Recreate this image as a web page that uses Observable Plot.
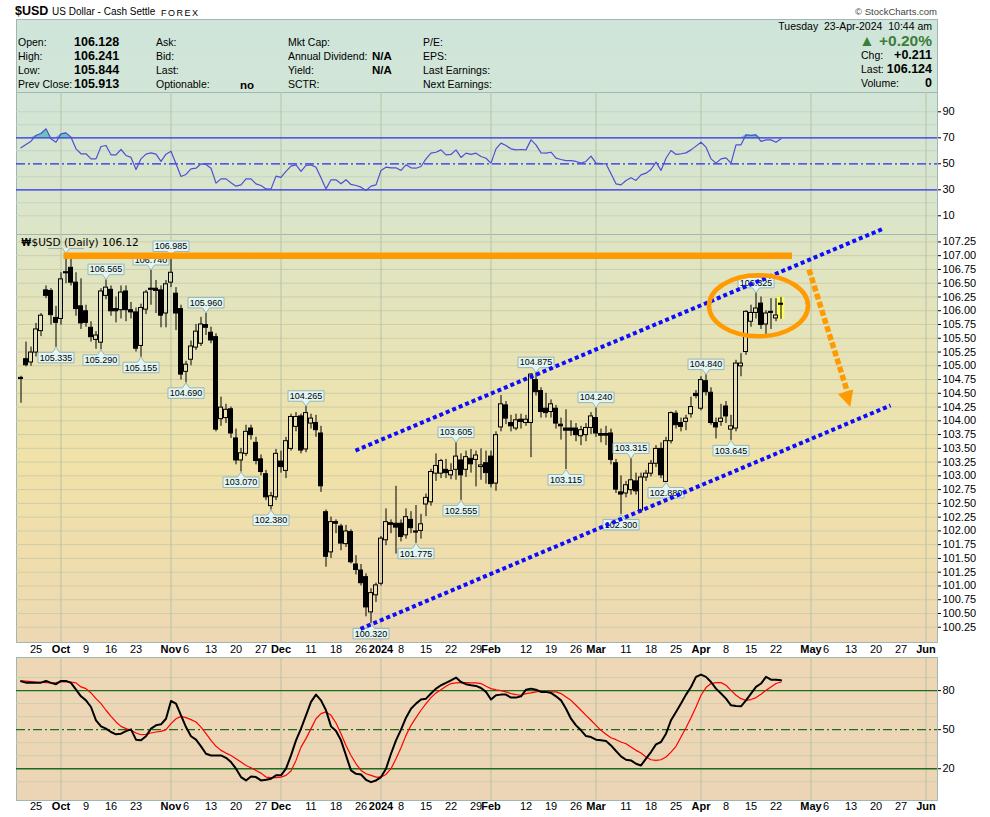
<!DOCTYPE html>
<html>
<head>
<meta charset="utf-8">
<script src="https://cdn.jsdelivr.net/npm/d3@7"></script>
<script src="https://cdn.jsdelivr.net/npm/@observablehq/plot@0.6"></script>
<style>
  html,body{margin:0;padding:0;background:#fff;}
  body{position:relative;width:990px;height:817px;overflow:hidden;font-family:"Liberation Sans",Arial,sans-serif;color:#000;}
  .a{position:absolute;white-space:nowrap;}
  .panel{position:absolute;left:16px;width:922px;box-sizing:border-box;border:1px solid #9fb8b6;
    background-image:linear-gradient(to bottom,#cfe5dc 0px,#d2e5d6 110px,#dde5c6 234px,#e8e3b5 360px,#f0e2a8 460px,#efdcae 580px,#edd7b5 650px,#ecd5b6 817px);
    background-size:100% 817px;background-repeat:no-repeat;}
  .lbl{font-size:10.5px;line-height:14px;height:14px;}
  .val{font-size:12.5px;font-weight:bold;line-height:14px;height:14px;}
  .chart{position:absolute;left:0;}
</style>
</head>
<body>
<!-- backgrounds -->
<div class="panel" style="top:19px;height:74px;background-position:0 -20px"></div>
<div class="panel" style="top:92px;height:143px;background-position:0 -93px"></div>
<div class="panel" style="top:234px;height:409px;background-position:0 -235px"></div>
<div class="panel" style="top:657px;height:144px;background-position:0 -658px"></div>

<!-- title -->
<div class="a" style="left:15px;top:4px;font-size:12.5px;font-weight:bold;line-height:14px">$USD</div>
<div class="a" style="left:52px;top:5px;font-size:10px;line-height:14px">US Dollar - Cash Settle</div>
<div class="a" style="left:161px;top:6px;font-size:9px;letter-spacing:1.5px;line-height:14px">FOREX</div>
<div class="a" style="right:53px;top:5px;font-size:9.5px;color:#444;line-height:14px">© StockCharts.com</div>

<!-- header info -->
<div class="a lbl" style="left:18px;top:35px">Open:</div>
<div class="a lbl" style="left:18px;top:49px">High:</div>
<div class="a lbl" style="left:18px;top:63px">Low:</div>
<div class="a lbl" style="left:18px;top:77px">Prev Close:</div>
<div class="a val" style="left:74px;top:35px">106.128</div>
<div class="a val" style="left:74px;top:49px">106.241</div>
<div class="a val" style="left:74px;top:63px">105.844</div>
<div class="a val" style="left:74px;top:77px">105.913</div>
<div class="a lbl" style="left:156px;top:35px">Ask:</div>
<div class="a lbl" style="left:156px;top:49px">Bid:</div>
<div class="a lbl" style="left:156px;top:63px">Last:</div>
<div class="a lbl" style="left:156px;top:77px">Optionable:</div>
<div class="a val" style="left:240px;top:78px;font-size:11.5px">no</div>
<div class="a lbl" style="left:288px;top:35px">Mkt Cap:</div>
<div class="a lbl" style="left:288px;top:49px">Annual Dividend:</div>
<div class="a lbl" style="left:288px;top:63px">Yield:</div>
<div class="a lbl" style="left:288px;top:77px">SCTR:</div>
<div class="a val" style="left:372px;top:49px;font-size:11.5px">N/A</div>
<div class="a val" style="left:372px;top:63px;font-size:11.5px">N/A</div>
<div class="a lbl" style="left:423px;top:35px">P/E:</div>
<div class="a lbl" style="left:423px;top:49px">EPS:</div>
<div class="a lbl" style="left:423px;top:63px">Last Earnings:</div>
<div class="a lbl" style="left:423px;top:77px">Next Earnings:</div>

<div class="a lbl" style="right:58px;top:19px">Tuesday&nbsp; 23-Apr-2024&nbsp; 10:44 am</div>
<div class="a" style="right:58px;top:33px;font-size:15.5px;font-weight:bold;line-height:15px;height:15px;color:#3b7d3b">▲ +0.20%</div>
<div class="a lbl" style="left:861px;top:48px">Chg:</div>
<div class="a val" style="right:58px;top:48px">+0.211</div>
<div class="a lbl" style="left:861px;top:62px">Last:</div>
<div class="a val" style="right:58px;top:62px">106.124</div>
<div class="a lbl" style="left:861px;top:76px">Volume:</div>
<div class="a val" style="right:58px;top:76px">0</div>

<div id="rsi" class="chart" style="top:92px"></div>
<div id="main" class="chart" style="top:220px"></div>
<div id="stoch" class="chart" style="top:657px"></div>

<script>
// ---------------- DATA ----------------
const firstDay = "2023-09-20";
const lastAxisDay = "2024-06-07";
const holidays = ["2023-12-25", "2024-01-01"];

const open = [
104.78,105.12,105.06,105.24,105.63,106.37,106.36,105.87,105.85,106.70,
106.78,106.51,106.08,105.99,105.69,105.47,105.42,106.27,106.38,106.03,
106.01,106.35,106.01,105.97,105.36,106.02,106.40,106.40,106.37,105.95,
106.51,106.31,106.03,104.89,105.11,105.33,105.40,105.74,105.60,105.52,
104.03,104.05,104.21,103.68,103.28,103.40,103.86,103.60,103.30,103.03,
102.45,102.61,103.26,103.09,103.49,103.89,104.08,103.48,103.95,103.96,
103.77,102.34,101.61,102.16,102.08,101.76,101.98,101.39,101.28,101.16,
100.52,100.83,101.04,101.83,102.14,102.13,102.13,101.92,102.20,101.99,
102.00,102.48,102.52,103.04,103.04,103.11,103.01,103.11,103.28,103.11,
103.31,103.29,103.16,103.23,103.35,102.86,103.88,104.28,103.96,103.86,
104.02,103.96,103.96,104.74,104.54,104.22,104.16,104.22,103.93,103.86,
103.86,103.86,103.72,103.74,103.87,104.05,103.76,103.76,103.77,103.23,
102.70,102.68,102.74,102.90,102.37,102.97,103.04,103.22,103.49,102.89,
103.63,104.13,103.96,103.98,104.12,104.49,104.22,104.72,104.51,103.96,
103.98,104.26,103.84,103.86,104.99,105.25,105.80,105.96,106.13,105.75,
105.98,105.86,106.128];
const high = [
104.81,105.43,105.34,105.77,105.95,106.45,106.40,106.08,106.69,107.04,
106.95,106.69,106.58,106.10,105.80,105.62,106.40,106.565,106.45,106.25,
106.45,106.45,106.15,106.05,106.12,106.37,106.74,106.55,106.45,106.55,
106.985,106.42,106.10,105.08,105.45,105.75,105.88,105.96,105.70,105.58,
104.43,104.30,104.25,103.85,103.50,103.92,103.92,103.70,103.38,103.10,
102.70,103.48,103.45,103.70,104.12,104.15,104.12,104.265,104.12,104.10,
103.90,102.38,102.25,102.20,102.12,102.10,102.02,101.55,101.39,101.22,
100.95,101.05,101.90,102.40,102.20,102.81,102.20,102.40,102.35,102.46,
102.30,102.67,103.12,103.40,103.30,103.30,103.22,103.605,103.40,103.45,
103.48,103.45,103.49,103.45,103.45,103.80,104.46,104.35,104.10,104.12,
104.12,104.10,104.86,104.875,104.60,104.50,104.38,104.28,104.05,104.20,
104.00,103.95,103.90,103.95,104.15,104.24,103.85,103.90,103.85,103.30,
103.00,102.90,103.315,103.05,103.05,103.10,103.28,103.55,103.60,103.70,
104.16,104.18,104.05,104.10,104.43,104.55,104.80,104.84,104.60,104.05,
104.30,104.35,104.10,105.10,105.22,106.00,106.10,106.325,106.25,106.00,
106.22,106.22,106.241];
const low = [
104.32,104.98,104.99,105.16,105.53,106.22,105.74,105.335,105.74,106.49,
106.45,105.90,105.66,105.70,105.43,105.30,105.29,106.20,105.90,105.78,
105.85,105.80,105.85,105.25,105.155,105.93,106.10,105.95,105.69,105.69,
106.42,105.64,104.74,104.69,105.00,105.28,105.35,105.55,105.40,103.80,
103.90,103.95,103.68,103.20,103.07,103.35,103.65,103.20,103.00,102.55,
102.38,102.55,103.05,102.95,103.45,103.80,103.40,103.42,103.85,103.70,
102.70,101.34,101.50,101.95,101.64,101.70,101.40,101.20,101.00,100.44,
100.32,100.70,101.00,101.73,101.95,101.58,101.80,101.85,101.95,101.775,
101.85,102.26,102.45,102.90,102.95,102.95,102.93,102.92,102.555,102.97,
103.05,102.80,102.92,102.85,102.78,102.72,103.80,103.93,103.80,103.82,
103.85,103.90,103.33,104.45,104.05,104.05,104.05,103.85,103.65,103.115,
103.72,103.62,103.55,103.62,103.75,103.70,103.60,103.55,103.20,102.68,
102.30,102.60,102.65,102.65,102.33,102.90,102.98,103.15,102.95,102.88,
103.58,103.85,103.80,103.82,104.05,104.40,104.18,104.45,103.92,103.67,
103.90,103.95,103.645,103.80,104.80,105.19,105.70,105.85,105.66,105.54,
105.66,105.80,105.844];
const close = [
104.76,105.01,105.24,105.66,105.91,106.27,105.92,105.78,106.57,106.68,
106.51,106.03,105.77,105.78,105.52,105.55,106.35,106.42,105.99,105.99,
106.33,106.01,105.97,105.31,106.05,106.33,106.38,106.36,105.91,106.48,
106.69,105.95,104.84,105.02,105.35,105.62,105.75,105.69,105.46,103.84,
104.24,104.20,103.77,103.28,103.41,103.80,103.74,103.27,103.07,102.61,
102.63,103.40,103.16,103.63,104.07,104.07,103.46,104.14,104.04,103.83,
102.81,101.53,102.16,102.13,101.77,101.99,101.43,101.29,101.05,100.61,
100.87,101.01,101.86,102.16,102.11,102.06,101.89,102.25,102.05,101.98,
102.12,102.60,103.07,103.18,103.27,103.05,103.09,103.35,103.01,103.34,
103.21,103.37,103.19,103.05,102.85,103.74,104.30,104.04,103.90,104.01,
103.98,104.02,104.84,104.52,104.16,104.14,104.30,103.95,103.90,103.82,
103.82,103.74,103.83,103.87,104.08,103.77,103.73,103.73,103.29,102.75,
102.66,102.83,102.92,102.72,102.97,103.04,103.22,103.49,103.01,103.63,
104.14,103.92,103.89,104.04,104.25,104.45,104.74,104.52,103.96,103.88,
104.04,104.08,103.90,105.04,105.04,105.98,105.96,106.04,105.74,105.95,
105.96,105.913,106.124];

const rsi = [
62.3,64.9,67.4,71.8,73.3,76.9,69.2,66.6,73.0,73.8,
70.5,61.5,57.7,57.7,53.8,53.8,63.3,64.1,56.9,56.9,
61.0,56.4,54.9,45.6,53.8,57.4,58.4,57.4,51.8,57.4,
59.7,50.0,40.2,41.8,46.1,46.6,50.0,49.5,46.6,35.1,
38.4,38.4,35.4,32.8,33.8,38.4,38.4,34.6,33.3,30.7,
30.5,40.5,39.5,44.1,48.2,49.2,44.1,48.7,49.2,47.4,
39.2,30.7,37.7,37.7,34.6,37.7,34.1,33.3,32.0,29.5,
32.8,33.8,44.9,47.4,46.9,46.9,44.9,49.2,46.9,46.6,
47.9,53.8,58.2,58.9,60.7,56.9,57.2,60.7,54.9,58.2,
57.2,58.2,55.6,54.3,50.5,61.5,65.9,64.1,61.5,60.7,
61.0,60.7,68.4,64.6,58.4,58.2,58.9,54.3,53.3,52.5,
52.5,51.8,50.5,51.8,55.9,50.5,50.2,50.0,42.3,34.6,
33.8,37.2,39.2,37.2,41.5,42.8,45.6,51.3,44.9,54.3,
60.2,57.2,57.7,58.4,60.7,63.6,66.6,62.8,53.8,50.5,
53.8,54.6,50.5,64.6,64.6,72.3,71.8,72.3,67.2,68.4,
68.4,66.6,69.2];

const stochK = [
87.2,86.1,86.1,86.1,86.1,87.4,85.9,84.9,87.4,87.4,
85.9,80.7,75.6,72.5,67.4,57.2,52.5,50.8,48.2,46.4,
46.9,48.9,50.2,42.3,41.8,44.9,50.8,53.3,54.1,58.4,
72.0,70.0,61.0,52.0,44.9,42.3,37.2,31.5,30.2,30.2,
30.2,28.4,25.1,20.0,13.6,11.0,14.1,13.6,11.0,11.5,
12.3,14.9,14.9,20.0,30.2,41.8,50.8,61.0,71.3,76.9,
72.5,64.9,52.5,48.9,41.8,30.2,18.7,16.1,15.6,11.5,
9.7,11.0,13.6,20.0,31.5,41.8,50.0,59.2,66.1,70.0,
73.1,73.8,77.7,81.5,84.1,85.9,87.9,90.0,86.6,84.9,
84.1,83.6,82.0,79.0,73.1,76.4,76.9,76.9,74.6,74.6,
75.6,80.7,81.5,80.7,79.0,79.0,78.2,75.6,72.5,66.1,
58.4,53.3,49.5,45.1,44.3,42.3,41.8,41.3,37.9,33.6,
29.5,26.9,26.4,23.8,22.5,27.7,32.8,38.7,40.5,46.9,
57.2,63.6,70.0,76.9,82.8,90.5,92.3,90.5,86.6,81.5,
77.7,73.8,68.7,68.2,67.9,72.5,77.7,82.8,85.4,90.5,
88.4,88.4,87.9];

const stochD = [
87.4,87.2,86.9,86.6,86.4,86.1,85.9,86.1,86.6,86.9,
86.6,85.9,82.8,81.5,78.2,73.8,70.0,64.9,60.2,55.9,
52.5,50.8,49.5,47.4,46.1,46.4,47.4,48.2,48.7,50.0,
54.6,58.4,60.2,59.2,57.7,55.9,52.0,46.9,41.8,37.2,
34.1,32.0,30.2,27.7,25.1,22.5,20.8,18.7,16.6,13.6,
13.1,13.1,13.6,14.9,18.2,26.4,36.6,43.1,50.8,58.4,
62.3,63.6,61.0,55.1,46.9,37.9,30.2,23.8,18.7,16.1,
14.9,13.6,13.6,15.6,20.0,27.7,36.1,45.6,53.3,59.2,
64.9,70.0,74.6,78.2,80.7,83.3,85.4,85.9,86.1,86.1,
85.9,85.9,85.4,83.3,81.5,80.5,79.9,79.0,77.7,76.9,
76.4,77.7,78.2,79.0,79.5,79.0,79.0,79.0,77.7,75.1,
72.5,68.7,64.9,61.0,57.2,53.3,49.5,46.4,43.8,42.3,
40.5,39.2,36.6,34.1,32.0,29.0,26.9,26.4,26.9,29.0,
32.8,37.2,44.3,51.5,59.2,67.4,76.4,82.3,85.4,86.1,
86.1,84.1,80.2,76.4,73.8,72.5,73.1,74.6,77.2,80.2,
82.8,85.4,86.6];

// price tags: date, price, side
const tagDates  = ["2023-10-13","2023-10-26","2023-11-01","2023-11-10","2023-12-08","2024-01-23","2024-02-14","2024-03-01","2024-03-12","2024-04-02","2024-04-16"];
const tagPrices = [106.565,106.740,106.985,105.960,104.265,103.605,104.875,104.240,103.315,104.840,106.325];
const lowTagDates  = ["2023-09-29","2023-10-12","2023-10-24","2023-11-06","2023-11-21","2023-11-29","2023-12-28","2024-01-11","2024-01-24","2024-02-22","2024-03-08","2024-03-21","2024-04-09"];
const lowTagPrices = [105.335,105.290,105.155,104.690,103.070,102.380,100.320,101.775,102.555,103.115,102.300,102.880,103.645];
const hiddenTagDate = "2023-10-03", hiddenTagPrice = 107.04;

const monthTickDates = ["2023-10-02","2023-11-01","2023-12-01","2024-01-02","2024-02-01","2024-03-01","2024-04-01","2024-05-01","2024-06-03"];
const monthTickText  = ["Oct","Nov","Dec","2024","Feb","Mar","Apr","May","Jun"];
const dayTickDates = ["2023-09-25","2023-10-09","2023-10-16","2023-10-23","2023-11-06","2023-11-13","2023-11-20","2023-11-27","2023-12-11","2023-12-18","2023-12-26","2024-01-08","2024-01-15","2024-01-22","2024-01-29","2024-02-12","2024-02-19","2024-02-26","2024-03-11","2024-03-18","2024-03-25","2024-04-08","2024-04-15","2024-04-22","2024-05-06","2024-05-13","2024-05-20","2024-05-27"];
const dayTickText  = ["25","9","16","23","6","13","20","27","11","18","26","8","15","22","29","12","19","26","11","18","25","8","15","22","6","13","20","27"];

const priceTicks = [100.25,100.5,100.75,101,101.25,101.5,101.75,102,102.25,102.5,102.75,103,103.25,103.5,103.75,104,104.25,104.5,104.75,105,105.25,105.5,105.75,106,106.25,106.5,106.75,107,107.25];
const rsiTicks = [10,30,50,70,90];
const stochTicks = [20,50,80];

// hand-drawn annotations, in (trading-day index, price)
const resistanceLine = [{k: 8.5, p: 107.0}, {k: 154.2, p: 107.0}];
const upperChannel = [{k: 66.9, p: 103.46}, {k: 172.7, p: 107.50}];
const lowerChannel = [{k: 67.9, p: 100.22}, {k: 173.9, p: 104.28}];
const ellipseCenter = [{k: 147.5, p: 106.09}];
const arrowPath = [{k: 157.6, p: 106.75}, {k: 165.3, p: 104.52}];
const arrowTip = [{k: 165.85, p: 104.25}];

// ---------------- BUILD ----------------
function tradingDays(start, end, hol) {
  const out = [], hs = new Set(hol);
  const e = Date.parse(end + "T00:00:00Z");
  for (let t = Date.parse(start + "T00:00:00Z"); t <= e; t += 86400000) {
    const d = new Date(t), wd = d.getUTCDay(), s = d.toISOString().slice(0, 10);
    if (wd === 0 || wd === 6 || hs.has(s)) continue;
    out.push(s);
  }
  return out;
}
const days = tradingDays(firstDay, lastAxisDay, holidays);
const idx = new Map(days.map((d, i) => [d, i]));

const candles = open.map((o, i) => ({k: i, o, h: high[i], l: low[i], c: close[i]}));
const up = candles.filter(d => d.c >= d.o);
const down = candles.filter(d => d.c < d.o);
const bodyTop = d => Math.max(d.o, d.c);
const bodyBot = d => Math.min(Math.min(d.o, d.c), Math.max(d.o, d.c) - 0.02);

const tagsHi = tagDates.map((d, i) => ({k: idx.get(d), p: tagPrices[i]}));
const tagsLo = lowTagDates.map((d, i) => ({k: idx.get(d), p: lowTagPrices[i]}));
const tagStub = [{k: idx.get(hiddenTagDate), p: hiddenTagPrice}];

const monK = monthTickDates.map(d => idx.get(d));
const monLabel = new Map(monK.map((k, i) => [k, monthTickText[i]]));
const dayK = dayTickDates.map(d => idx.get(d));
const dayLabel = new Map(dayK.map((k, i) => [k, dayTickText[i]]));

const W = 990, ML = 16, MR = 53;
const X = {domain: [-0.8, 183.4], range: [16.5, 937.5]};
const ST = {background: "transparent", fontFamily: "'Liberation Sans', Arial, sans-serif", fontSize: "11px", overflow: "visible", color: "#000"};
const HGRID = "#cfcda9", HGRID_RSI = "#c5d4c2", VGRID = "#b7c2a7";
const ORANGE = "#ff9a00", BLUE = "#0c0cff";

function xAxes() {
  return [
    Plot.axisX(dayK, {tickFormat: k => dayLabel.get(k), tickSize: 0, tickPadding: 2, fontSize: 11, label: null}),
    Plot.axisX(monK, {tickFormat: k => monLabel.get(k), tickSize: 0, tickPadding: 2, fontSize: 11, fontWeight: "bold", label: null})
  ];
}

// custom symbols (pixel shapes anchored at the data point)
const TW = 18;
const tagAbove = {draw(c) { c.moveTo(0, 0); c.lineTo(-3.5, -5); c.lineTo(-TW, -5); c.lineTo(-TW, -15.5); c.lineTo(TW, -15.5); c.lineTo(TW, -5); c.lineTo(3.5, -5); c.closePath(); }};
const tagBelow = {draw(c) { c.moveTo(0, 0); c.lineTo(-3.5, 5); c.lineTo(-TW, 5); c.lineTo(-TW, 15.5); c.lineTo(TW, 15.5); c.lineTo(TW, 5); c.lineTo(3.5, 5); c.closePath(); }};
const tagStubSym = {draw(c) { c.moveTo(-TW, -5); c.lineTo(-3.5, -5); c.lineTo(0, 0); c.lineTo(3.5, -5); c.lineTo(TW, -5); }};
const ellipseSym = {draw(c) {
  const rx = 49.5, ry = 30.5, kx = rx * 0.5523, ky = ry * 0.5523;
  c.moveTo(rx, 0);
  c.bezierCurveTo(rx, ky, kx, ry, 0, ry);
  c.bezierCurveTo(-kx, ry, -rx, ky, -rx, 0);
  c.bezierCurveTo(-rx, -ky, -kx, -ry, 0, -ry);
  c.bezierCurveTo(kx, -ry, rx, -ky, rx, 0);
  c.closePath();
}};
const headSym = {draw(c) {
  const dx = 0.292, dy = 0.956, L = 16, H = 8;
  c.moveTo(0, 0);
  c.lineTo(-L * dx + H * dy, -L * dy - H * dx);
  c.lineTo(-L * dx - H * dy, -L * dy + H * dx);
  c.closePath();
}};

// ---- RSI panel ----
const rsiData = rsi.map((v, i) => ({k: i, v}));
const rsiPlot = Plot.plot({
  width: W, height: 142, marginLeft: ML, marginRight: MR, marginTop: 0, marginBottom: 0,
  x: {...X, axis: null},
  y: {domain: [-4.4, 104.85]},
  style: ST,
  marks: [
    Plot.ruleY([10, 20, 40, 60, 80, 90], {stroke: HGRID_RSI}),
    Plot.ruleX(monK, {stroke: VGRID}),
    Plot.areaY(rsiData, {x: "k", y1: 70, y2: d => Math.max(70, d.v), fill: "#6cc4b4"}),
    Plot.ruleY([30, 70], {stroke: "#2b2bea", strokeWidth: 1.3}),
    Plot.ruleY([50], {stroke: "#2b2bea", strokeWidth: 1.3, strokeDasharray: "9,3,2,3"}),
    Plot.line(rsiData, {x: "k", y: "v", stroke: "#4f4fd4", strokeWidth: 1.2}),
    Plot.axisY(rsiTicks, {anchor: "right", tickSize: 3, tickPadding: 2, fontSize: 11, label: null})
  ]
});
document.getElementById("rsi").appendChild(rsiPlot);

// ---- main price panel ----
const last = candles[candles.length - 1];
const mainPlot = Plot.plot({
  width: W, height: 437, marginLeft: ML, marginRight: MR, marginTop: 14, marginBottom: 14.3,
  x: X,
  y: {domain: [99.96, 107.385]},
  style: ST,
  marks: [
    Plot.ruleY(priceTicks, {stroke: HGRID}),
    Plot.ruleX(monK, {stroke: VGRID}),
    Plot.axisY(priceTicks, {anchor: "right", tickSize: 3, tickPadding: 2, tickFormat: d3.format(".2f"), fontSize: 11, label: null}),
    ...xAxes(),
    // today's range highlight
    Plot.rect([last], {x1: d => d.k - 0.75, x2: d => d.k + 0.75, y1: "l", y2: "h", fill: "#ffff66"}),
    // wicks
    Plot.ruleX(candles, {x: "k", y1: "h", y2: bodyTop, stroke: "#000"}),
    Plot.ruleX(candles, {x: "k", y1: bodyBot, y2: "l", stroke: "#000"}),
    // bodies
    Plot.rect(up, {x1: d => d.k - 0.4, x2: d => d.k + 0.4, y1: bodyBot, y2: bodyTop, fill: "none", stroke: "#000"}),
    Plot.rect(down, {x1: d => d.k - 0.4, x2: d => d.k + 0.4, y1: bodyBot, y2: bodyTop, fill: "#000", stroke: "#000"}),
    // price tags
    Plot.dot(tagsHi, {x: "k", y: "p", r: 5, symbol: tagAbove, fill: "#e3f6f3", stroke: "#98b6b4", strokeWidth: 1}),
    Plot.text(tagsHi, {x: "k", y: "p", dy: -10.2, text: d => d.p.toFixed(3), fontSize: 9, fill: "#000"}),
    Plot.dot(tagsLo, {x: "k", y: "p", r: 5, symbol: tagBelow, fill: "#e3f6f3", stroke: "#98b6b4", strokeWidth: 1}),
    Plot.text(tagsLo, {x: "k", y: "p", dy: 10.4, text: d => d.p.toFixed(3), fontSize: 9, fill: "#000"}),
    Plot.dot(tagStub, {x: "k", y: "p", r: 5, symbol: tagStubSym, fill: "#e3f6f3", stroke: "#98b6b4", strokeWidth: 1}),
    // legend
    Plot.text(["₩"], {frameAnchor: "top-left", dx: 5, dy: 8, fontSize: 10, fontWeight: "bold", fill: "#000", lineAnchor: "middle", textAnchor: "start"}),
    Plot.text(["$USD (Daily) 106.12"], {frameAnchor: "top-left", dx: 15, dy: 8, fontSize: 10.5, fontFamily: "'DejaVu Sans', Verdana, sans-serif", fill: "#000", lineAnchor: "middle", textAnchor: "start"}),
    // annotations
    Plot.line(resistanceLine, {x: "k", y: "p", stroke: ORANGE, strokeWidth: 6.5, strokeLinecap: "butt"}),
    Plot.line(upperChannel, {x: "k", y: "p", stroke: BLUE, strokeWidth: 4, strokeDasharray: "4,3", strokeLinecap: "butt"}),
    Plot.line(lowerChannel, {x: "k", y: "p", stroke: BLUE, strokeWidth: 4, strokeDasharray: "4,3", strokeLinecap: "butt"}),
    Plot.dot(ellipseCenter, {x: "k", y: "p", r: 10, symbol: ellipseSym, fill: "none", stroke: ORANGE, strokeWidth: 4.5}),
    Plot.line(arrowPath, {x: "k", y: "p", stroke: ORANGE, strokeWidth: 5.5, strokeDasharray: "6,2.5", strokeLinecap: "butt"}),
    Plot.dot(arrowTip, {x: "k", y: "p", r: 8, symbol: headSym, fill: ORANGE, stroke: "none"})
  ]
});
document.getElementById("main").appendChild(mainPlot);

// ---- stochastic panel ----
const stData = stochK.map((v, i) => ({k: i, kv: v, dv: stochD[i]}));
const stPlot = Plot.plot({
  width: W, height: 160, marginLeft: ML, marginRight: MR, marginTop: 0, marginBottom: 17,
  x: X,
  y: {domain: [-4.4, 105.4]},
  style: ST,
  marks: [
    Plot.ruleY([10, 30, 40, 60, 70, 90], {stroke: HGRID}),
    Plot.ruleX(monK, {stroke: VGRID}),
    Plot.ruleY([20, 80], {stroke: "#1d6b1d", strokeWidth: 1.4}),
    Plot.ruleY([50], {stroke: "#1d6b1d", strokeWidth: 1.4, strokeDasharray: "9,3,2,3"}),
    Plot.line(stData, {x: "k", y: "dv", stroke: "#ff0000", strokeWidth: 1.2}),
    Plot.line(stData, {x: "k", y: "kv", stroke: "#000", strokeWidth: 2}),
    Plot.axisY(stochTicks, {anchor: "right", tickSize: 3, tickPadding: 2, fontSize: 11, label: null}),
    ...xAxes()
  ]
});
document.getElementById("stoch").appendChild(stPlot);
</script>
</body>
</html>
